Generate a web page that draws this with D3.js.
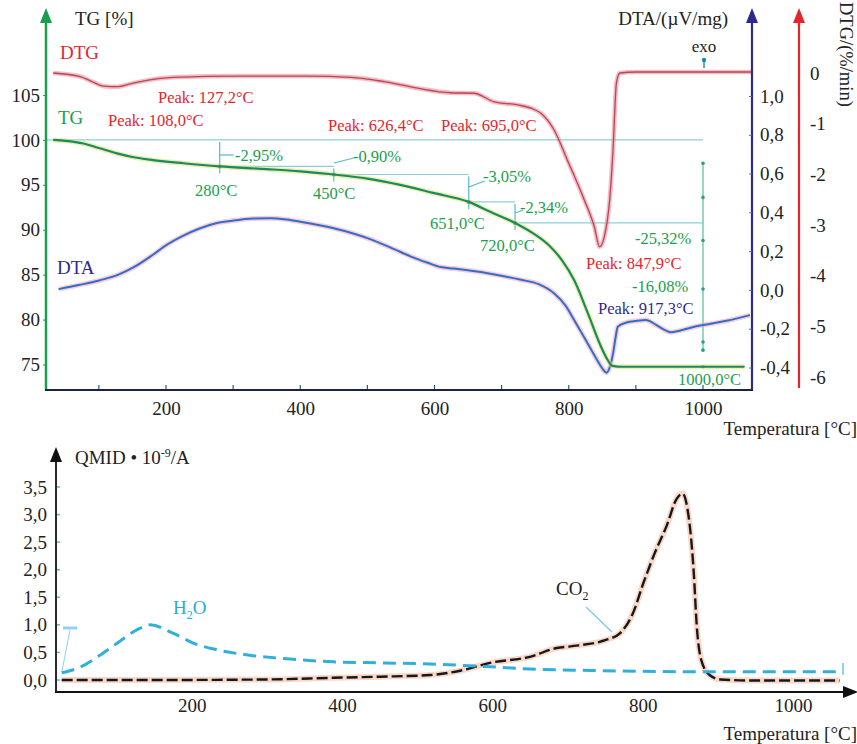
<!DOCTYPE html>
<html>
<head>
<meta charset="utf-8">
<script src="https://cdn.jsdelivr.net/npm/d3@7"></script>
<style>
body{margin:0;background:#fff;}
text{font-family:"Liberation Serif","DejaVu Serif",serif;}
</style>
</head>
<body>
<div id="chart"></div>
<script>
// ---- data (temperature in °C, value) ----
const tgData = [[32,100],[50,99.9],[77,99.6],[100,99.1],[127,98.5],[150,98.1],[176,97.8],[226,97.4],[280,97.05],
  [350,96.75],[400,96.5],[450,96.15],[500,95.7],[549,95.0],[598,94.1],[651,93.1],[683,92.0],[720,90.76],
  [747,89.6],[770,88.3],[790,86.6],[808,84.4],[828,80.8],[848,77.0],[858,75.5],[865,74.85],[880,74.75],[1000,74.75],[1062,74.75]];

const dtaData = [[40,0.004],[70,0.025],[102,0.05],[130,0.08],[152,0.117],[180,0.18],[201,0.232],[226,0.28],[251,0.318],
  [276,0.345],[301,0.358],[330,0.368],[356,0.37],[380,0.363],[400,0.352],[450,0.318],[500,0.267],[540,0.21],
  [565,0.172],[590,0.14],[609,0.118],[629,0.11],[679,0.086],[729,0.052],[755,0.03],[778,-0.017],[795,-0.08],
  [808,-0.155],[828,-0.275],[842,-0.36],[851,-0.41],[856,-0.427],[861,-0.4],[866,-0.327],[870,-0.24],[873,-0.19],
  [886,-0.168],[900,-0.16],[915,-0.155],[930,-0.18],[945,-0.21],[952,-0.218],[965,-0.21],[987,-0.19],[1037,-0.158],[1070,-0.13]];

const dtgData = [[32,0],[72,-0.07],[90,-0.17],[107,-0.26],[129,-0.27],[145,-0.22],[162,-0.17],[211,-0.085],[311,-0.06],
  [410,-0.06],[475,-0.085],[525,-0.17],[575,-0.3],[624,-0.39],[659,-0.4],[689,-0.57],[724,-0.63],[745,-0.7],
  [759,-0.8],[778,-1.12],[798,-1.72],[823,-2.5],[838,-3.03],[846,-3.43],[853,-3.23],[861,-2.5],[866,-1.52],
  [871,-0.2],[876,0.0],[900,0.02],[1073,0.02]];

const h2oData = [[27,0.13],[51,0.23],[78,0.45],[104,0.70],[127,0.91],[145,1.0],[175,0.85],[202,0.67],[233,0.55],
  [277,0.45],[322,0.39],[388,0.33],[455,0.31],[517,0.29],[597,0.24],[650,0.2],[739,0.17],[872,0.15],[1062,0.15]];

const co2Data = [[27,0.0],[150,0.0],[300,0.01],[388,0.04],[450,0.06],[517,0.09],[561,0.18],[597,0.31],[650,0.42],
  [686,0.58],[704,0.61],[752,0.73],[770,0.85],[787,1.21],[801,1.76],[816,2.3],[832,2.8],[845,3.28],[853,3.38],
  [859,3.15],[868,1.94],[872,0.97],[878,0.36],[889,0.09],[903,0.01],[950,-0.01],[1062,-0.01]];

// ---- ticks ----
const xTicks = [200, 400, 600, 800, 1000];
const xMinor = [100, 200, 300, 400, 500, 600, 700, 800, 900, 1000];
const tgTicks = [75, 80, 85, 90, 95, 100, 105];
const dtaTicks = [-0.4, -0.2, 0.0, 0.2, 0.4, 0.6, 0.8, 1.0];
const dtgTicks = [-6, -5, -4, -3, -2, -1, 0];
const qTicks = [0, 0.5, 1.0, 1.5, 2.0, 2.5, 3.0, 3.5];

// ---- TG steps ----
const stepTemps = [280, 450, 651, 720];
const stepLevels = [97.05, 96.15, 93.10, 90.76];
const stepLoss = ["-2,95%", "-0,90%", "-3,05%", "-2,34%"];
const stepNames = ["280°C", "450°C", "651,0°C", "720,0°C"];

const loc = d3.formatLocale({decimal: ",", thousands: " ", grouping: [3], currency: ["", ""], minus: "-"});
const f1 = loc.format(".1f"), f0 = loc.format("d");

const svg = d3.select("#chart").append("svg")
  .attr("width", 857).attr("height", 744);

const GREEN = "#1c9e50", RED = "#e8232d", NAVY = "#2b2b8f", GUIDE = "#8ccfdc";

// ---- scales ----
const xTop = d3.scaleLinear().domain([200, 1000]).range([166, 703]);
const yTG = d3.scaleLinear().domain([75, 105]).range([364.5, 95]);
const yDTA = d3.scaleLinear().domain([-0.4, 1.0]).range([367.5, 96]);
const yDTG = d3.scaleLinear().domain([-6, 0]).range([377, 73]);

const xBot = d3.scaleLinear().domain([200, 1000]).range([191.7, 793]);
const yQ = d3.scaleLinear().domain([0, 3.5]).range([680, 487]);

function curve(g, data, x, y, color, w, halo, hw, dash) {
  const line = d3.line().x(d => x(d[0])).y(d => y(d[1])).curve(d3.curveMonotoneX);
  if (halo) g.append("path").attr("d", line(data)).attr("fill", "none")
    .attr("stroke", halo).attr("stroke-width", hw).attr("stroke-opacity", 0.55)
    .attr("stroke-linejoin", "round");
  g.append("path").attr("d", line(data)).attr("fill", "none")
    .attr("stroke", color).attr("stroke-width", w)
    .attr("stroke-dasharray", dash || null).attr("stroke-linejoin", "round");
}

function label(x, y, txt, color, size, anchor) {
  return svg.append("text").attr("x", x).attr("y", y).attr("dy", "0.35em")
    .attr("fill", color).attr("font-size", size).attr("text-anchor", anchor || "start").text(txt);
}

function arrowUp(x, tip, color) {
  svg.append("path").attr("d", `M${x},${tip} L${x - 6},${tip + 15} L${x + 6},${tip + 15} Z`).attr("fill", color);
}

// ================= TOP CHART =================
const topG = svg.append("g");

// guide lines
topG.append("line").attr("x1", 46).attr("x2", xTop(1000)).attr("y1", yTG(100)).attr("y2", yTG(100))
  .attr("stroke", GUIDE).attr("stroke-width", 1.2);
stepTemps.forEach((t, i) => {
  const prev = i === 0 ? 100 : stepLevels[i - 1];
  const next = i < stepTemps.length - 1 ? stepTemps[i + 1] : 1000;
  topG.append("line").attr("x1", xTop(t)).attr("x2", xTop(t))
    .attr("y1", yTG(prev) + 2).attr("y2", yTG(stepLevels[i]) + 7)
    .attr("stroke", "#58b8cc").attr("stroke-width", 1.2);
  topG.append("line").attr("x1", xTop(t)).attr("x2", xTop(next))
    .attr("y1", yTG(stepLevels[i])).attr("y2", yTG(stepLevels[i]))
    .attr("stroke", GUIDE).attr("stroke-width", 1.2);
  topG.append("circle").attr("cx", xTop(t)).attr("cy", yTG(stepLevels[i])).attr("r", 2).attr("fill", "#1b5a40");
});
// connectors to loss labels
const conn = [[0, 155, 14, 155], [0, 163, 20, 158], [0, 187, 16, 181], [0, 213, 8, 210]];
conn.forEach((c, i) => {
  const x0 = xTop(stepTemps[i]);
  topG.append("line").attr("x1", x0 + c[0]).attr("y1", c[1]).attr("x2", x0 + c[2]).attr("y2", c[3])
    .attr("stroke", "#58b8cc").attr("stroke-width", 1.2);
});
// 1000 °C total-loss marker
topG.append("line").attr("x1", xTop(1000)).attr("x2", xTop(1000)).attr("y1", yTG(97.4)).attr("y2", yTG(76.6))
  .attr("stroke", "#5ab9a0").attr("stroke-width", 1.2);
[97.4, 93.6, 88.8, 83.4, 77.5, 76.6, 74.75].forEach(v =>
  topG.append("circle").attr("cx", xTop(1000)).attr("cy", yTG(v)).attr("r", 1.8).attr("fill", "#2aa080"));

// curves
curve(topG, dtaData, xTop, yDTA, "#2f70c6", 2, "#f4a6bc", 5);
curve(topG, dtgData, xTop, yDTG, "#b04a5a", 1.3, "#ee8290", 4.5);
curve(topG, tgData, xTop, yTG, "#178a66", 2.2, "#e6df6a", 5);

// exo arrow
topG.append("line").attr("x1", 704).attr("x2", 704).attr("y1", 68).attr("y2", 60).attr("stroke", "#1a8aa0").attr("stroke-width", 1.4);
topG.append("circle").attr("cx", 704).attr("cy", 60).attr("r", 2.2).attr("fill", "#1a8aa0");

// axes lines
topG.append("line").attr("x1", 46).attr("x2", 46).attr("y1", 22).attr("y2", 391).attr("stroke", GREEN).attr("stroke-width", 2.5);
arrowUp(46, 8, GREEN);
topG.append("line").attr("x1", 752).attr("x2", 752).attr("y1", 22).attr("y2", 391).attr("stroke", NAVY).attr("stroke-width", 2.2);
arrowUp(752, 8, NAVY);
topG.append("line").attr("x1", 799).attr("x2", 799).attr("y1", 22).attr("y2", 388).attr("stroke", RED).attr("stroke-width", 2.2);
arrowUp(799, 8, RED);
topG.append("line").attr("x1", 45).attr("x2", 753).attr("y1", 390).attr("y2", 390).attr("stroke", "#1c2440").attr("stroke-width", 2.2);
xMinor.forEach(t => topG.append("line").attr("x1", xTop(t)).attr("x2", xTop(t)).attr("y1", 389).attr("y2", 385)
  .attr("stroke", "#2a5f7a").attr("stroke-width", 1.2));

function styleAxis(g) {
  g.select(".domain").remove();
  g.selectAll("text").attr("font-size", 19).attr("fill", "#222")
    .attr("font-family", "Liberation Serif, DejaVu Serif, serif");
}
topG.append("g").attr("transform", "translate(46,0)")
  .call(d3.axisLeft(yTG).tickValues(tgTicks).tickFormat(f0).tickSize(3).tickPadding(3))
  .call(styleAxis).selectAll("line").attr("stroke", GREEN);
topG.append("g").attr("transform", "translate(752,0)")
  .call(d3.axisRight(yDTA).tickValues(dtaTicks).tickFormat(f1).tickSize(-3).tickPadding(8))
  .call(styleAxis).selectAll("line").attr("stroke", "#3a6ad0");
topG.append("g").attr("transform", "translate(799,0)")
  .call(d3.axisRight(yDTG).tickValues(dtgTicks).tickFormat(f0).tickSize(0).tickPadding(11))
  .call(styleAxis);
topG.append("g").attr("transform", "translate(0,390)")
  .call(d3.axisBottom(xTop).tickValues(xTicks).tickFormat(f0).tickSize(0).tickPadding(12))
  .call(styleAxis);

// titles
label(75, 18, "TG [%]", "#222", 19);
label(728, 18, "DTA/(µV/mg)", "#222", 19, "end");
svg.append("text").attr("transform", "translate(840,2) rotate(90)").attr("font-size", 18.5)
  .attr("fill", "#222").text("DTG/(%/min)");
label(857, 428, "Temperatura [°C]", "#222", 19, "end");
label(704, 46, "exo", "#222", 17, "middle");
label(60, 52, "DTG", RED, 19);
label(58, 117, "TG", GREEN, 19);
label(57, 267, "DTA", NAVY, 19);

// peak labels
label(158, 97, "Peak: 127,2°C", RED, 16.5);
label(108, 120, "Peak: 108,0°C", RED, 16.5);
label(328, 125, "Peak: 626,4°C", RED, 16.5);
label(441, 125, "Peak: 695,0°C", RED, 16.5);
label(586, 263, "Peak: 847,9°C", RED, 16.5);
label(598, 308, "Peak: 917,3°C", NAVY, 16.5);

// step labels
const lossPos = [[235, 155], [353, 156], [483, 176], [520, 207]];
const namePos = [[195, 190], [313, 193], [430, 223], [480, 245]];
stepLoss.forEach((s, i) => label(lossPos[i][0], lossPos[i][1], s, GREEN, 16.5));
stepNames.forEach((s, i) => label(namePos[i][0], namePos[i][1], s, GREEN, 16.5));
label(635, 238, "-25,32%", GREEN, 16.5);
label(632, 286, "-16,08%", GREEN, 16.5);
label(678, 379, "1000,0°C", GREEN, 16.5);

// ================= BOTTOM CHART =================
const botG = svg.append("g");
curve(botG, co2Data, xBot, yQ, "#15191c", 2.4, "#f6b89a", 6, "11 4");
curve(botG, h2oData, xBot, yQ, "#2fb0dc", 3, null, 0, "13 7");

// little markers / leaders
botG.append("line").attr("x1", 63).attr("x2", 77).attr("y1", 628).attr("y2", 628).attr("stroke", "#8fd3ea").attr("stroke-width", 3);
botG.append("line").attr("x1", 70).attr("x2", 62).attr("y1", 630).attr("y2", 671).attr("stroke", "#8fd3ea").attr("stroke-width", 1);
botG.append("line").attr("x1", 586).attr("x2", 612).attr("y1", 607).attr("y2", 632).attr("stroke", "#7cc6e4").attr("stroke-width", 1.2);
botG.append("line").attr("x1", 843).attr("x2", 843).attr("y1", 663).attr("y2", 675).attr("stroke", "#8fd3ea").attr("stroke-width", 2);

// axes
botG.append("line").attr("x1", 56).attr("x2", 56).attr("y1", 460).attr("y2", 693).attr("stroke", "#111").attr("stroke-width", 1.8);
arrowUp(56, 447, "#111");
botG.append("line").attr("x1", 55).attr("x2", 846).attr("y1", 692).attr("y2", 692).attr("stroke", "#111").attr("stroke-width", 1.8);
botG.append("path").attr("d", "M858,692 L843,686 L843,698 Z").attr("fill", "#111");
qTicks.forEach(v => botG.append("line").attr("x1", 57).attr("x2", 60).attr("y1", yQ(v)).attr("y2", yQ(v))
  .attr("stroke", "#5ab8d8").attr("stroke-width", 1.5));
botG.append("g").attr("transform", "translate(56,0)")
  .call(d3.axisLeft(yQ).tickValues(qTicks).tickFormat(f1).tickSize(0).tickPadding(9))
  .call(styleAxis);
botG.append("g").attr("transform", "translate(0,692)")
  .call(d3.axisBottom(xBot).tickValues(xTicks).tickFormat(f0).tickSize(0).tickPadding(7))
  .call(styleAxis);

const q = svg.append("text").attr("x", 75).attr("y", 464).attr("font-size", 19).attr("fill", "#222");
q.append("tspan").text("QMID • 10");
q.append("tspan").attr("dy", -7).attr("font-size", 12).text("-9");
q.append("tspan").attr("dy", 7).text("/A");

const hw = svg.append("text").attr("x", 173).attr("y", 614).attr("font-size", 19).attr("fill", "#2aa8e0");
hw.append("tspan").text("H");
hw.append("tspan").attr("dy", 5).attr("font-size", 12).text("2");
hw.append("tspan").attr("dy", -5).text("O");

const co = svg.append("text").attr("x", 556).attr("y", 595).attr("font-size", 19).attr("fill", "#222");
co.append("tspan").text("CO");
co.append("tspan").attr("dy", 5).attr("font-size", 12).text("2");

label(857, 733, "Temperatura [°C]", "#222", 19, "end");
</script>
</body>
</html>
